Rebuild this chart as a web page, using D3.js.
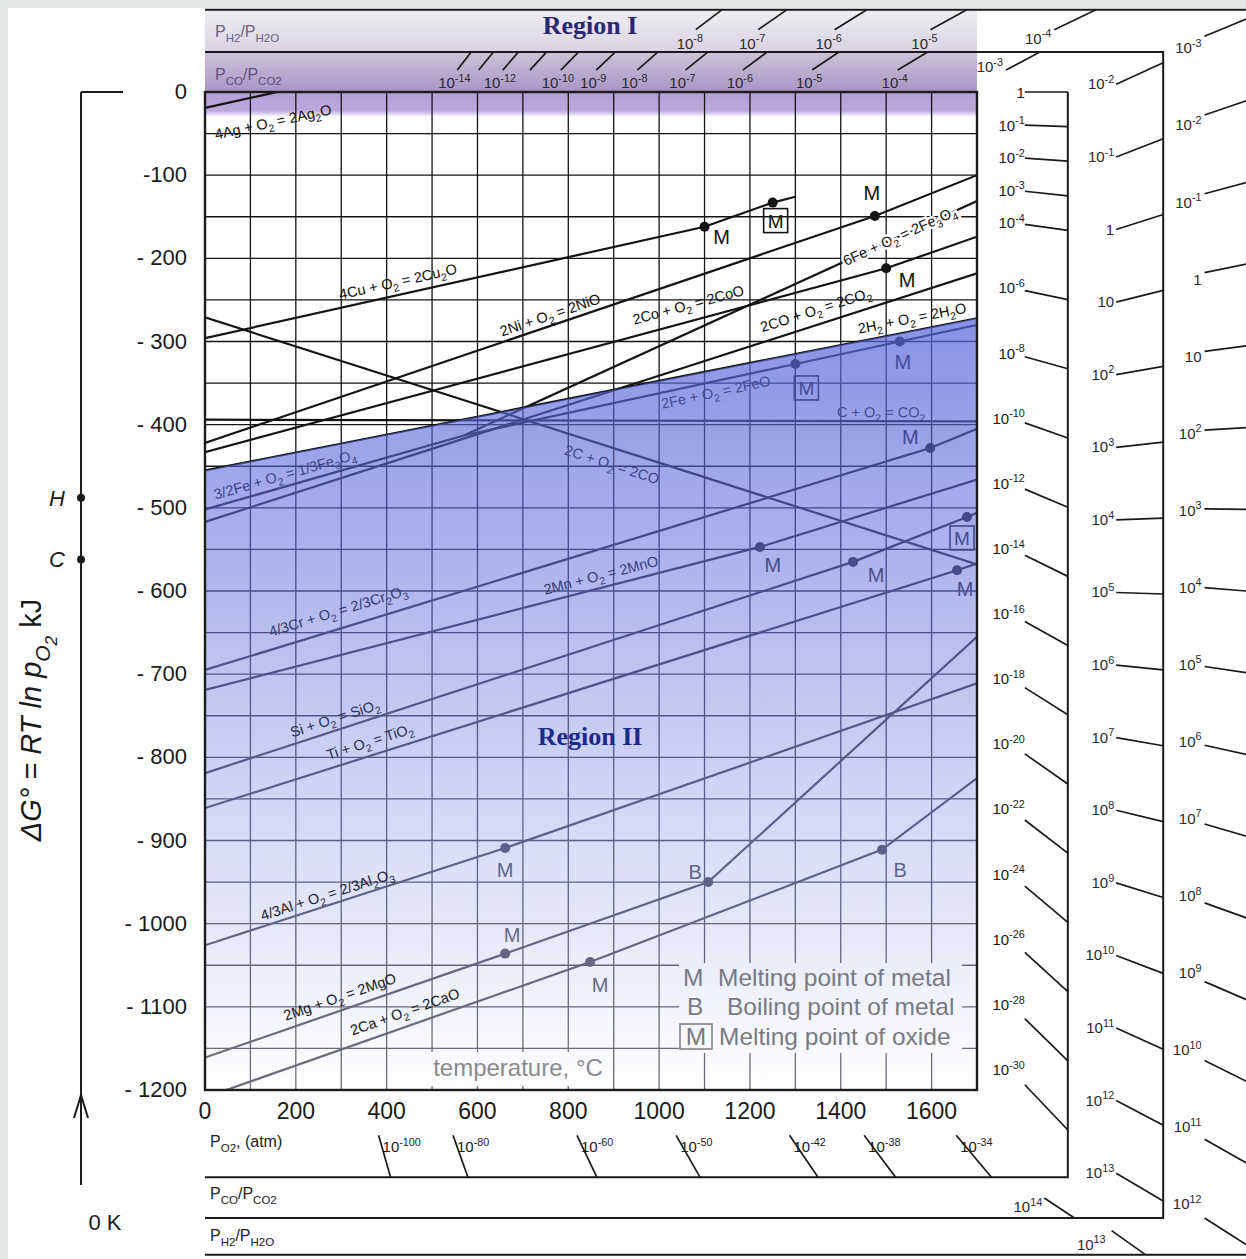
<!DOCTYPE html>
<html>
<head>
<meta charset="utf-8">
<script src="https://cdn.jsdelivr.net/npm/d3@7"></script>
<style>
  body { margin: 0; background: #fff; }
  svg { display: block; font-family: "Liberation Sans", Arial, sans-serif; }
</style>
</head>
<body>
<svg id="chart" width="1246" height="1259"></svg>
<script>
// axis ticks: temperature in °C, standard free energy in kJ
const tempTicks = [0, 200, 400, 600, 800, 1000, 1200, 1400, 1600];
const energyTicks = [0, -100, -200, -300, -400, -500, -600, -700, -800, -900, -1000, -1100, -1200];
const energyLabels = ['0', '-100', '- 200', '- 300', '- 400', '- 500', '- 600', '- 700', '- 800', '- 900', '- 1000', '- 1100', '- 1200'];

// reaction lines, [T °C, ΔG° kJ]
const ag = [[0, -19], [160, 0]];
const cu = [[0, -296], [1100, -162], [1250, -133], [1300, -126]];
const ni = [[0, -422], [1475, -149], [1700, -100]];
const co = [[0, -433], [1500, -212], [1700, -174]];
const feoToFe3o4 = [[570, -413], [1700, -131]];
const coToCo2 = [[0, -517], [1700, -218]];
const h2ToH2o = [[0, -455], [1700, -272]];
const feToFeo = [[570, -413], [1300, -327], [1530, -300], [1700, -280]];
const cToCo2 = [[0, -394], [1700, -396]];
const feToFe3o4 = [[0, -502], [570, -413]];
const cToCo = [[0, -271], [1700, -568]];
const cr = [[0, -695], [1597, -428], [1700, -405]];
const mn = [[0, -719], [1222, -547], [1700, -466]];
const si = [[0, -819], [1427, -565], [1678, -511], [1700, -506]];
const ti = [[0, -861], [1656, -575], [1700, -567]];
const al = [[0, -1026], [661, -909], [1700, -711]];
const mg = [[0, -1161], [661, -1036], [1108, -950], [1700, -655]];
const ca = [[0, -1209], [848, -1046], [1491, -911], [1700, -825]];

const reactionLines = [ag, cu, ni, co, feoToFe3o4, coToCo2, h2ToH2o, feToFeo, cToCo2,
  feToFe3o4, cToCo, cr, mn, si, ti, al, mg, ca];
const reactionNames = [
  '4Ag + O_{2} = 2Ag_{2}O', '4Cu + O_{2} = 2Cu_{2}O', '2Ni + O_{2} = 2NiO', '2Co + O_{2} = 2CoO',
  '6Fe + O_{2} = 2Fe_{3}O_{4}', '2CO + O_{2} = 2CO_{2}', '2H_{2} + O_{2} = 2H_{2}O', '2Fe + O_{2} = 2FeO',
  'C + O_{2} = CO_{2}', '3/2Fe + O_{2} = 1/3Fe_{3}O_{4}', '2C + O_{2} = 2CO',
  '4/3Cr + O_{2} = 2/3Cr_{2}O_{3}', '2Mn + O_{2} = 2MnO', 'Si + O_{2} = SiO_{2}', 'Ti + O_{2} = TiO_{2}',
  '4/3Al + O_{2} = 2/3Al_{2}O_{3}', '2Mg + O_{2} = 2MgO', '2Ca + O_{2} = 2CaO'];
// where each name sits, [°C, kJ]
const nameAt = [[150, -36], [425, -228], [760, -268], [1064, -256], [1530, -173], [1345, -262],
  [1557, -272], [1125, -361], [1489, -385], [176, -460], [896, -448], [293, -624], [872, -581],
  [286, -753], [363, -781], [269, -965], [297, -1088], [440, -1106]];

// transition points
const metalMelt = [[1100, -162], [1475, -149], [1500, -212], [1530, -300], [1597, -428], [1427, -565],
  [1222, -547], [1656, -575], [661, -909], [661, -1036], [848, -1046]];
const oxideMelt = [[1250, -133], [1300, -327], [1678, -511]];
const metalBoil = [[1108, -950], [1491, -911]];
// label offsets (px) from each point
const metalMeltOff = [[17, 10], [-3, -23], [21, 12], [3, 20], [-20, -11], [23, 13], [13, 18], [8, 19], [0, 22], [7, -19], [10, 23]];
const oxideMeltOff = [[3, 18], [11, 24], [-5, 21]];
const metalBoilOff = [[-13, -10], [18, 20]];

// nomographic scales (decimal exponents)
const pO2Exp = [0, -1, -2, -3, -4, -6, -8, -10, -12, -14, -16, -18, -20, -22, -24, -26, -28, -30, -34, -38, -42, -50, -60, -80, -100];
const coExp = [-14, -13, -12, -11, -10, -9, -8, -7, -6, -5, -4, -3, -2, -1, 0, 1, 2, 3, 4, 5, 6, 7, 8, 9, 10, 11, 12, 13, 14];
const coUnlabelled = [-13, -11];
const h2Exp = [-8, -7, -6, -5, -4, -3, -2, -1, 0, 1, 2, 3, 4, 5, 6, 7, 8, 9, 10, 11, 12, 13];

const svg = d3.select('#chart');
const x = d3.scaleLinear().domain([0, 1700]).range([205, 977]);
const y = d3.scaleLinear().domain([0, -1200]).range([92, 1090]);

const defs = svg.append('defs');
function vGrad(id, stops, y1, y2) {
  const g = defs.append('linearGradient').attr('id', id).attr('gradientUnits', 'userSpaceOnUse')
    .attr('x1', 0).attr('x2', 0).attr('y1', y1).attr('y2', y2);
  stops.forEach(s => g.append('stop').attr('offset', s[0]).attr('stop-color', s[1]).attr('stop-opacity', s[2] === undefined ? 1 : s[2]));
}
vGrad('ink', [[0, '#141414'], [0.357, '#141414'], [0.477, '#3a3a4a'], [0.635, '#5a5c70'], [0.866, '#6e6e7c'], [1, '#6e6e7c']], 0, 1259);
vGrad('blue', [[0, 'rgb(89,104,219)', 0.72], [1, 'rgb(89,104,219)', 0]], y(-272), 1090);
vGrad('hdr', [[0, '#efeef2'], [0.5, '#d9d3e3'], [0.52, '#cdc4da'], [1, '#a695c4']], 10, 92);
vGrad('strip', [[0, '#b39fd7'], [0.75, '#bcaadd'], [1, '#ffffff']], 92, 117);
defs.append('clipPath').attr('id', 'plot').append('rect')
  .attr('x', 205).attr('y', 92).attr('width', 772).attr('height', 998);

// text with _{sub} ^{sup} ~{subsub}
function rich(sel, str, fs) {
  const re = /([_^~])\{([^}]*)\}|([^_^~]+)/g;
  let cur = 0, m;
  while ((m = re.exec(str)) !== null) {
    let target = 0, txt = m[3], size = fs;
    if (m[1]) {
      txt = m[2];
      if (m[1] === '_') { target = fs * 0.3; size = fs * 0.72; }
      else if (m[1] === '^') { target = -fs * 0.42; size = fs * 0.72; }
      else { target = fs * 0.55; size = fs * 0.6; }
    }
    sel.append('tspan').attr('dy', (target - cur).toFixed(2)).attr('font-size', size).text(txt);
    cur = target;
  }
  return cur;
}

// background with the grey scan margin
svg.append('rect').attr('width', 1246).attr('height', 1259).attr('fill', '#e3e6e6');
svg.append('rect').attr('x', 8).attr('y', 8).attr('width', 1238).attr('height', 1251).attr('fill', '#fff');

// Region I header band
svg.append('rect').attr('x', 205).attr('y', y(99)).attr('width', 772).attr('height', y(0) - y(99)).attr('fill', 'url(#hdr)');
svg.append('rect').attr('x', 205).attr('y', 92).attr('width', 772).attr('height', 25).attr('fill', 'url(#strip)');

// grid
const grid = svg.append('g').attr('stroke', 'url(#ink)').attr('stroke-width', 1.3);
d3.range(0, 1701, 100).forEach(t => grid.append('line').attr('x1', x(t)).attr('x2', x(t)).attr('y1', y(0)).attr('y2', y(-1200)));
d3.range(0, -1201, -50).forEach(g => grid.append('line').attr('x1', x(0)).attr('x2', x(1700)).attr('y1', y(g)).attr('y2', y(g)));

// reaction lines
const path = d3.line().x(d => x(d[0])).y(d => y(d[1]));
svg.append('g').attr('clip-path', 'url(#plot)')
  .selectAll('path').data(reactionLines).join('path')
  .attr('d', path).attr('fill', 'none').attr('stroke', 'url(#ink)').attr('stroke-width', 2.2);

// reaction names along the lines
reactionLines.forEach((ln, i) => {
  const f = d3.scaleLinear().domain(ln.map(d => d[0])).range(ln.map(d => d[1]));
  const t = nameAt[i][0];
  const ang = Math.atan2(y(f(t + 30)) - y(f(t - 30)), x(t + 30) - x(t - 30)) * 180 / Math.PI;
  const txt = svg.append('text')
    .attr('transform', `translate(${x(t)},${y(nameAt[i][1])}) rotate(${ang.toFixed(2)})`)
    .attr('text-anchor', 'middle').attr('y', 5).attr('fill', 'url(#ink)');
  if (i === 4) txt.attr('stroke', '#fff').attr('stroke-width', 5).attr('paint-order', 'stroke');
  rich(txt, reactionNames[i], 14.5);
});

// transition markers
function markers(pts, offs, letter, boxed) {
  pts.forEach((p, i) => {
    const cx = x(p[0]), cy = y(p[1]);
    svg.append('circle').attr('cx', cx).attr('cy', cy).attr('r', 5).attr('fill', 'url(#ink)');
    const lx = cx + offs[i][0], ly = cy + offs[i][1];
    if (boxed) svg.append('rect').attr('x', lx - 12).attr('y', ly - 12).attr('width', 24).attr('height', 24)
      .attr('fill', 'none').attr('stroke', 'url(#ink)').attr('stroke-width', 1.6);
    svg.append('text').attr('x', lx).attr('y', ly + 7).attr('text-anchor', 'middle')
      .attr('font-size', boxed ? 19 : 20).attr('fill', 'url(#ink)').text(letter);
  });
}
markers(metalMelt, metalMeltOff, 'M', false);
markers(oxideMelt, oxideMeltOff, 'M', true);
markers(metalBoil, metalBoilOff, 'B', false);

// legend and axis caption inside the plot
svg.append('rect').attr('x', 426).attr('y', 1052).attr('width', 186).attr('height', 34).attr('fill', '#fff');
svg.append('text').attr('x', 518).attr('y', 1076).attr('text-anchor', 'middle').attr('font-size', 24)
  .attr('fill', '#8a8a8a').text('temperature, °C');
svg.append('rect').attr('x', 679).attr('y', 963).attr('width', 283).attr('height', 90).attr('fill', '#fff');
const lg = svg.append('g').attr('font-size', 24.5).attr('fill', '#7b7b7b');
lg.append('text').attr('x', 683).attr('y', 986).text('M');
lg.append('text').attr('x', 718).attr('y', 986).text('Melting point of metal');
lg.append('text').attr('x', 687).attr('y', 1015).text('B');
lg.append('text').attr('x', 727).attr('y', 1015).text('Boiling point of metal');
lg.append('rect').attr('x', 680).attr('y', 1024).attr('width', 32).attr('height', 25).attr('fill', 'none').attr('stroke', '#7b7b7b').attr('stroke-width', 1.5);
lg.append('text').attr('x', 696).attr('y', 1045).attr('text-anchor', 'middle').text('M');
lg.append('text').attr('x', 719).attr('y', 1045).text('Melting point of oxide');

// Region II: the band under the H2/H2O line
const blueArea = h2ToH2o.concat([[1700, -1200], [0, -1200]]);
svg.append('path').attr('d', path(blueArea) + 'Z').attr('fill', 'url(#blue)');
svg.append('text').attr('x', 590).attr('y', 745).attr('text-anchor', 'middle')
  .attr('font-family', '"Liberation Serif", "Times New Roman", serif').attr('font-weight', 'bold')
  .attr('font-size', 26).attr('fill', '#1c2a8c').text('Region II');
svg.append('text').attr('x', 590).attr('y', 34).attr('text-anchor', 'middle')
  .attr('font-family', '"Liberation Serif", "Times New Roman", serif').attr('font-weight', 'bold')
  .attr('font-size', 26).attr('fill', '#2c2870').text('Region I');

// plot frame
svg.append('rect').attr('x', x(0)).attr('y', y(0)).attr('width', x(1700) - x(0)).attr('height', y(-1200) - y(0))
  .attr('fill', 'none').attr('stroke', '#1c1c1c').attr('stroke-width', 2.4);

// axis labels
svg.append('g').selectAll('text').data(energyTicks).join('text')
  .attr('x', 187).attr('y', d => y(d) + 7).attr('text-anchor', 'end').attr('font-size', 22).attr('fill', '#1a1a1a')
  .text((d, i) => energyLabels[i]);
svg.append('g').selectAll('text').data(tempTicks).join('text')
  .attr('x', d => x(d)).attr('y', 1119).attr('text-anchor', 'middle').attr('font-size', 23).attr('fill', '#1a1a1a')
  .text(d => d);

// 0 K line with the H and C pivots
const x0K = x(-273);
svg.append('line').attr('x1', x0K).attr('x2', x0K).attr('y1', y(0)).attr('y2', 1185).attr('stroke', '#1a1a1a').attr('stroke-width', 2);
svg.append('line').attr('x1', x0K).attr('x2', x0K + 42).attr('y1', y(0)).attr('y2', y(0)).attr('stroke', '#1a1a1a').attr('stroke-width', 2);
svg.append('path').attr('d', `M${x0K - 7},1118 L${x0K},1095 L${x0K + 7},1118`).attr('fill', 'none').attr('stroke', '#1a1a1a').attr('stroke-width', 2);
svg.append('text').attr('x', x0K + 24).attr('y', 1230).attr('text-anchor', 'middle').attr('font-size', 22).attr('fill', '#1a1a1a').text('0 K');
[['H', -488], ['C', -562]].forEach(p => {
  svg.append('circle').attr('cx', x0K).attr('cy', y(p[1])).attr('r', 4).attr('fill', '#1a1a1a');
  svg.append('text').attr('x', x0K - 24).attr('y', y(p[1]) + 8).attr('text-anchor', 'middle').attr('font-size', 22)
    .attr('font-style', 'italic').attr('fill', '#1a1a1a').text(p[0]);
});
const yt = svg.append('text').attr('transform', 'translate(41,720) rotate(-90)').attr('text-anchor', 'middle')
  .attr('font-size', 29).attr('font-style', 'italic').attr('fill', '#1a1a1a');
const off = rich(yt, 'ΔG° = RT ln p_{O}~{2}', 29);
yt.append('tspan').attr('dy', -off).attr('font-style', 'normal').text(' kJ');

// nomograph boxes
const bx = svg.append('g').attr('stroke', '#1a1a1a').attr('stroke-width', 2).attr('fill', 'none');
bx.append('path').attr('d', `M${x(0)},${y(-1305)} H${x(1900)} V${y(0)}`);
bx.append('path').attr('d', `M${x(0)},${y(48)} H${x(2110)} V${y(-1354)} H${x(0)}`);
bx.append('path').attr('d', `M${x(0)},${y(99)} H1246 M${x(0)},${y(-1398)} H1246`);

function fmt(e) { return e === 0 ? '1' : e === 1 ? '10' : `10^{${e}}`; }
function nomo(exps, cfg) {
  const P = [x(-273), y(cfg.pivot)];
  const g = svg.append('g');
  exps.forEach(e => {
    const s = cfg.a - cfg.b * e;
    let T, G, side;
    if (cfg.top !== undefined && s > 0 && (cfg.top - cfg.pivot) / s - 273 <= cfg.right) {
      T = (cfg.top - cfg.pivot) / s - 273; G = cfg.top; side = 'top';
    } else {
      T = cfg.right; G = cfg.pivot + s * (cfg.right + 273); side = 'right';
      if (G < cfg.bottom) { T = (cfg.bottom - cfg.pivot) / s - 273; G = cfg.bottom; side = 'bottom'; }
    }
    const E = [x(T), y(G)];
    const len = Math.hypot(E[0] - P[0], E[1] - P[1]);
    const ux = (E[0] - P[0]) / len, uy = (E[1] - P[1]) / len;
    const k = side === 'right' ? cfg.lenX / ux : cfg.lenY[side] / Math.abs(uy);
    const S = [E[0] - ux * k, E[1] - uy * k];
    g.append('line').attr('x1', S[0]).attr('y1', S[1]).attr('x2', E[0]).attr('y2', E[1])
      .attr('stroke', '#1a1a1a').attr('stroke-width', 1.7);
    if (cfg.skip && cfg.skip.includes(e)) return;
    let pl = cfg.place[side];
    if (side === 'top' && E[0] > x(1700)) pl = cfg.place.topRight;
    const txt = g.append('text').attr('x', S[0] + pl[1]).attr('y', S[1] + pl[2] + (pl[3] || 0) * uy / ux)
      .attr('text-anchor', pl[0]).attr('fill', cfg.color || '#1a1a1a');
    rich(txt, fmt(e), 15);
  });
}
nomo(pO2Exp, { pivot: 0, a: 0, b: -0.019145, right: 1900, bottom: -1305, lenX: 43, lenY: { bottom: 42 },
  place: { right: ['end', 0, 6, -15], bottom: ['start', 4, 17] } });
nomo(coExp, { pivot: -562, a: 0.174, b: 0.03829, top: 48, right: 2110, bottom: -1354, lenX: 47,
  lenY: { top: 18, bottom: 20 }, skip: coUnlabelled, color: '#2a2a2a',
  place: { top: ['middle', -3, 18], topRight: ['end', -3, 2], right: ['end', -2, 5], bottom: ['end', -2, 14] } });
nomo(h2Exp, { pivot: -488, a: 0.1095, b: 0.03829, top: 99, right: 2320, bottom: -1398, lenX: 54,
  lenY: { top: 20, bottom: 24 }, color: '#2a2a2a',
  place: { top: ['middle', -6, 19], topRight: ['end', -3, 14], right: ['end', -3, 7, -25], bottom: ['end', -6, 19] } });

// scale row captions
function caption(str, px, py, col) {
  const t = svg.append('text').attr('x', px).attr('y', py).attr('font-size', 16).attr('fill', col);
  rich(t, str, 16);
}
caption('P_{H2}/P_{H2O}', 215, 37, '#6b5f88');
caption('P_{CO}/P_{CO2}', 215, 80, '#5e527c');
caption('P_{O2}, (atm)', 210, 1147, '#222');
caption('P_{CO}/P_{CO2}', 210, 1199, '#222');
caption('P_{H2}/P_{H2O}', 210, 1241, '#222');
</script>
</body>
</html>
